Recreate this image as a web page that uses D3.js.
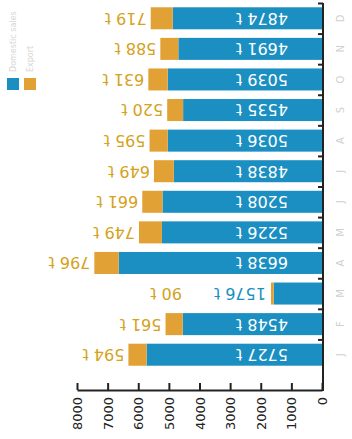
<!DOCTYPE html>
<html>
<head>
<meta charset="utf-8">
<script src="https://cdn.jsdelivr.net/npm/d3@7"></script>
<style>
  html, body { margin: 0; padding: 0; background: #fff; }
  svg { display: block; font-family: "DejaVu Sans", sans-serif; }
</style>
</head>
<body>
<svg id="chart" width="352" height="439"></svg>
<script>
// Monthly tonnages, January to December
const months = ["J", "F", "M", "A", "M", "J", "J", "A", "S", "O", "N", "D"];
const mainValues = [5727, 4548, 1576, 6638, 5226, 5208, 4838, 5036, 4535, 5039, 4691, 4874];
const extraValues = [594, 561, 90, 796, 749, 661, 649, 595, 520, 631, 588, 719];
const valueTicks = [0, 1000, 2000, 3000, 4000, 5000, 6000, 7000, 8000];
const seriesNames = ["Domestic sales", "Export"];

const blue = "#1b8fc1";
const orange = "#e1a134";
const orangeText = "#d4a21c";

const svg = d3.select("#chart");

const x = d3.scaleLinear().domain([0, 8000]).range([322, 77]);
const y = d3.scaleBand().domain(d3.range(months.length)).range([370, 3])
  .paddingInner(0.28).paddingOuter(0.14);
const rows = d3.scaleLinear().domain([0, months.length]).range([370, 3]);

const data = months.map((m, i) => ({ i, m, a: mainValues[i], b: extraValues[i] }));

// stacked bars
const g = svg.append("g");
g.selectAll("rect.a").data(data).join("rect")
  .attr("x", d => x(d.a)).attr("width", d => x(0) - x(d.a))
  .attr("y", d => y(d.i)).attr("height", y.bandwidth())
  .attr("fill", blue);
g.selectAll("rect.b").data(data).join("rect")
  .attr("x", d => x(d.a + d.b)).attr("width", d => x(d.a) - x(d.a + d.b))
  .attr("y", d => y(d.i)).attr("height", y.bandwidth())
  .attr("fill", orange);

// value labels, turned upside down
const labelSize = 16;
const inset = 34;
function label(sel, px, cy, text, color) {
  return sel.append("text")
    .attr("transform", `translate(${px},${cy}) rotate(180)`)
    .attr("dy", "0.35em")
    .attr("font-size", labelSize)
    .attr("fill", color)
    .text(text);
}
data.forEach(d => {
  const cy = y(d.i) + y.bandwidth() / 2;
  const txtA = d.a + " t";
  const txtB = d.b + " t";
  const barLen = x(0) - x(d.a);
  if (barLen > 120) {
    label(g, x(0) - inset, cy, txtA, "#fff");
    label(g, x(d.a + d.b) - 4, cy, txtB, orangeText);
  } else {
    const t = label(g, x(d.a + d.b) - 5, cy, txtA, blue);
    const w = t.node().getComputedTextLength();
    label(g, x(d.a + d.b) - 5 - w - 32, cy, txtB, orangeText);
  }
});

// value axis along the bottom
const xAxis = svg.append("g")
  .attr("transform", "translate(0,390)")
  .call(d3.axisBottom(x).tickValues(valueTicks).tickFormat(d3.format("d"))
    .tickSizeInner(-7).tickSizeOuter(0));
xAxis.select(".domain").attr("stroke", "#222").attr("stroke-width", 2);
xAxis.selectAll(".tick line").attr("stroke", "#222").attr("stroke-width", 2);
xAxis.selectAll(".tick text")
  .attr("y", 0).attr("dy", "0.35em")
  .attr("transform", "translate(0,7) rotate(-90)")
  .attr("text-anchor", "end")
  .attr("font-size", 13)
  .attr("font-family", "DejaVu Sans, sans-serif")
  .attr("fill", "#222");

// month axis on the right, ticks between rows
const yAxis = svg.append("g")
  .attr("transform", "translate(323,0)")
  .call(d3.axisLeft(rows).tickValues(d3.range(1, months.length + 1)).tickSize(5).tickFormat(""));
yAxis.select(".domain").remove();
yAxis.selectAll(".tick line").attr("stroke", "#222").attr("stroke-width", 2);
svg.append("line")
  .attr("x1", 323).attr("x2", 323).attr("y1", 3).attr("y2", 391)
  .attr("stroke", "#222").attr("stroke-width", 2);

svg.append("g").selectAll("text").data(data).join("text")
  .attr("transform", d => `translate(340,${y(d.i) + y.bandwidth() / 2}) rotate(-90)`)
  .attr("text-anchor", "middle")
  .attr("dy", "0.35em")
  .attr("font-size", 10)
  .attr("fill", "#cfcfcf")
  .text(d => d.m);

// legend
const legend = svg.append("g");
const legendColors = [blue, orange];
seriesNames.forEach((name, i) => {
  const lx = 7 + i * 17;
  legend.append("rect").attr("x", lx).attr("y", 78).attr("width", 12).attr("height", 12)
    .attr("fill", legendColors[i]);
  legend.append("text")
    .attr("transform", `translate(${lx + 6},72) rotate(-90)`)
    .attr("dy", "0.35em")
    .attr("font-size", 8)
    .attr("fill", "#d6d6d6")
    .text(name);
});
</script>
</body>
</html>
